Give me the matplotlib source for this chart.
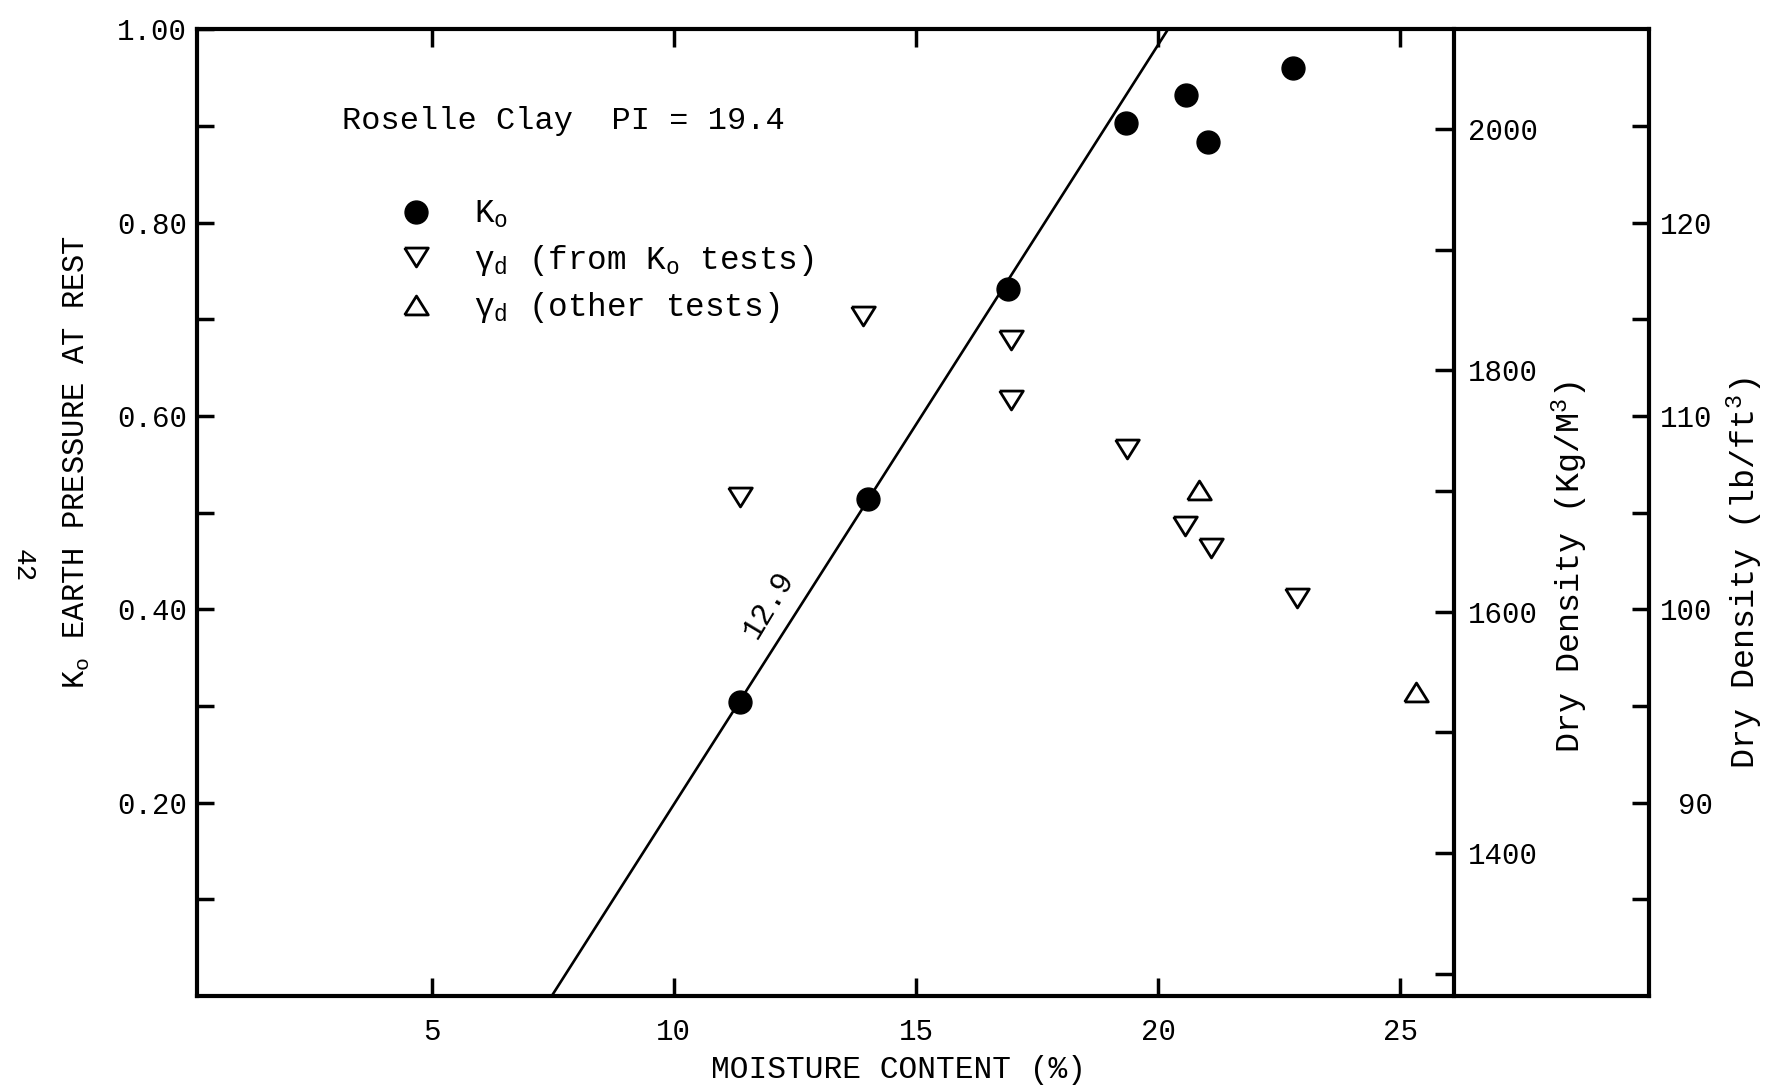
import matplotlib
matplotlib.use("Agg")
import matplotlib.pyplot as plt

plt.rcParams['font.family'] = ['Liberation Mono', 'DejaVu Sans']
plt.rcParams['mathtext.default'] = 'regular'

# Ko test results: moisture content (%) and coefficient of earth pressure at rest
ko_moisture = [11.36, 14.0, 16.89, 19.34, 20.57, 21.02, 22.79]
ko_values = [0.304, 0.514, 0.731, 0.903, 0.932, 0.884, 0.960]

# Dry density (kg/m3) of the Ko specimens
gd_ko_moisture = [11.36, 13.90, 16.96, 16.96, 19.36, 20.55, 21.09, 22.86]
gd_ko_density = [1695, 1845, 1825, 1775, 1735, 1671, 1653, 1611]

# Dry density (kg/m3) from other tests
gd_other_moisture = [20.85, 25.33]
gd_other_density = [1701, 1533]

# Straight line through the Ko results
fit_moisture = [7.48, 20.2]
fit_ko = [0.0, 1.0]
fit_label = "12.9"

# Axis ticks
x_ticks = [5, 10, 15, 20, 25]
ko_ticks = [0.2, 0.4, 0.6, 0.8, 1.0]
ko_minor = [0.1, 0.3, 0.5, 0.7, 0.9]
kg_ticks = [1400, 1600, 1800, 2000]
kg_minor = [1300, 1500, 1700, 1900]
lb_ticks = [90, 100, 110, 120]
lb_minor = [85, 95, 105, 115, 125]

LB_PER_KG = 0.062428          # lb/ft3 per kg/m3
lb_limits = (80, 130)
kg_limits = (lb_limits[0] / LB_PER_KG, lb_limits[1] / LB_PER_KG)
kg_axis_at = 26.1             # moisture content where the kg/m3 scale stands

SPINE_W = 3.0
TICK_W = 2.5
FS = 21

fig = plt.figure(figsize=(17.71, 10.90), dpi=100)
ax = fig.add_axes([0.1110, 0.0862, 0.8201, 0.8868])
ax.set_xlim(0.15, 30.13)
ax.set_ylim(0, 1.0)

for side in ('left', 'top', 'bottom'):
    ax.spines[side].set_linewidth(SPINE_W)
ax.spines['right'].set_visible(False)

ax.set_xticks(x_ticks)
ax.set_xticklabels([str(v) for v in x_ticks])
ax.tick_params(axis='x', which='both', direction='in', top=True,
               length=13, width=TICK_W, pad=16, labelsize=FS)
ax.set_yticks(ko_ticks)
ax.set_yticklabels([f"{v:.2f}" for v in ko_ticks])
ax.set_yticks(ko_minor, minor=True)
ax.tick_params(axis='y', which='both', direction='in', length=12,
               width=TICK_W, pad=7, labelsize=FS)

# Dry density in kg/m3
ax_kg = ax.twinx()
ax_kg.set_ylim(*kg_limits)
for side in ('left', 'top', 'bottom'):
    ax_kg.spines[side].set_visible(False)
ax_kg.spines['right'].set_position(('data', kg_axis_at))
ax_kg.spines['right'].set_linewidth(SPINE_W)
ax_kg.set_yticks(kg_ticks)
ax_kg.set_yticklabels([str(v) for v in kg_ticks])
ax_kg.set_yticks(kg_minor, minor=True)
ax_kg.tick_params(axis='y', which='both', direction='in', length=14,
                  width=TICK_W, pad=10, labelsize=FS)

# Dry density in lb/ft3
ax_lb = ax.twinx()
ax_lb.set_ylim(*lb_limits)
for side in ('left', 'top', 'bottom'):
    ax_lb.spines[side].set_visible(False)
ax_lb.spines['right'].set_linewidth(SPINE_W)
ax_lb.set_yticks(lb_ticks)
ax_lb.set_yticklabels([str(v) for v in lb_ticks])
ax_lb.set_yticks(lb_minor, minor=True)
ax_lb.tick_params(axis='y', which='both', direction='in', length=12,
                  width=TICK_W, pad=46, labelsize=FS)
for lab in ax_lb.get_yticklabels():
    lab.set_horizontalalignment('right')

# Fitted line and its label
ax.plot(fit_moisture, fit_ko, color='black', lw=1.9, solid_capstyle='butt')
ax.text(11.95, 0.405, fit_label, rotation=59, fontsize=22,
        ha='center', va='center')

down_tri = [(-1, 0.8), (1, 0.8), (0, -0.8), (-1, 0.8)]
up_tri = [(-1, -0.8), (1, -0.8), (0, 0.8), (-1, -0.8)]

h_ko, = ax.plot(ko_moisture, ko_values, 'o', color='black', ms=16.5,
                ls='none', label='$K_o$')
h_gd, = ax_kg.plot(gd_ko_moisture, gd_ko_density, ls='none', marker=down_tri,
                   ms=17, mfc='white', mec='black', mew=2.0,
                   label='$γ_d$ (from $K_o$ tests)')
h_ot, = ax_kg.plot(gd_other_moisture, gd_other_density, ls='none', marker=up_tri,
                   ms=17, mfc='white', mec='black', mew=2.0,
                   label='$γ_d$ (other tests)')

ax_lb.legend(handles=[h_ko, h_gd, h_ot], loc='upper left',
             bbox_to_anchor=(0.1395, 0.8245), frameon=False, fontsize=23.5,
             handlelength=1.0, handletextpad=1.29, labelspacing=0.38,
             borderpad=0, borderaxespad=0)

ax.text(0.1002, 0.905, "Roselle Clay  PI = 19.4", transform=ax.transAxes,
        fontsize=23, ha='left', va='center')

# Axis titles
fig.text(898 / 1771, 1 - 1070 / 1090, "MOISTURE CONTENT (%)", fontsize=22.5,
         ha='center', va='center')
fig.text(77 / 1771, 1 - 462 / 1090, "$K_o$ EARTH PRESSURE AT REST", fontsize=22,
         rotation=90, ha='center', va='center')
fig.text(1570 / 1771, 1 - 567 / 1090, "Dry Density (Kg/M$^3$)", fontsize=24,
         rotation=90, ha='center', va='center')
fig.text(1745 / 1771, 1 - 573 / 1090, "Dry Density (lb/ft$^3$)", fontsize=24,
         rotation=90, ha='center', va='center')

# Page number
fig.text(23 / 1771, 1 - 566 / 1090, "42", fontsize=20, rotation=-90,
         ha='center', va='center')

fig.savefig("out.png", dpi=100)
